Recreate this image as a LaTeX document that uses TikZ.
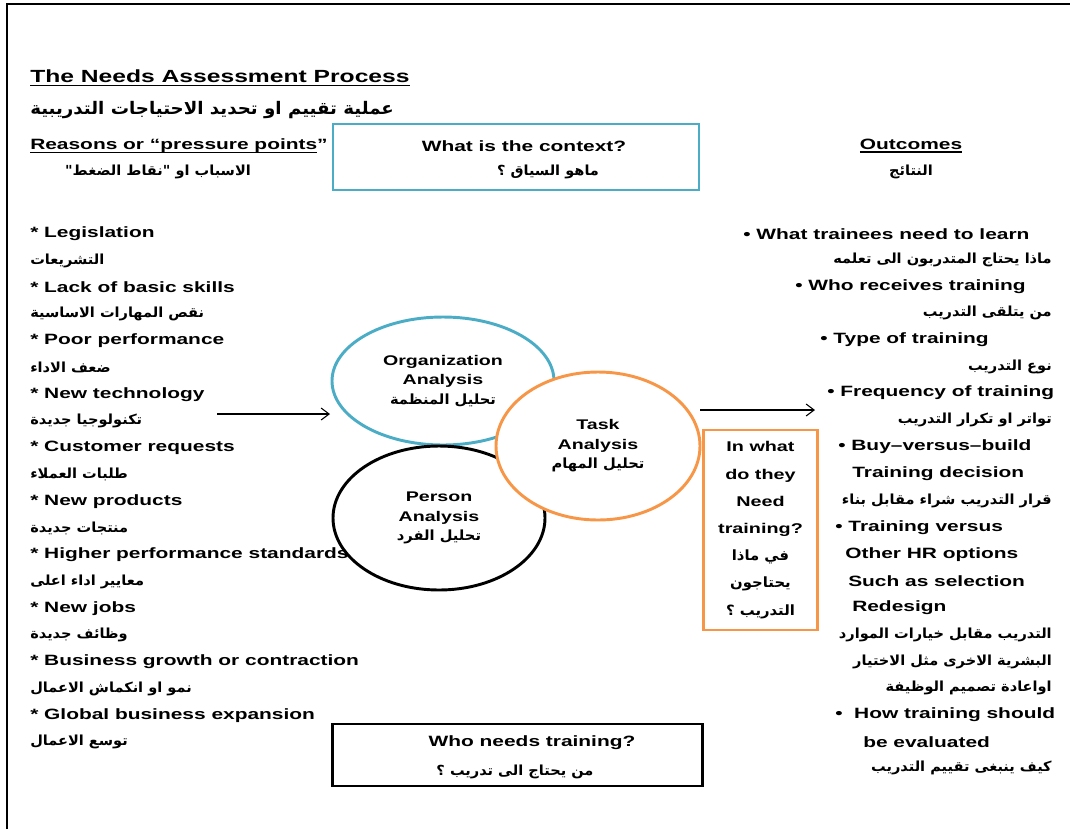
\documentclass[tikz,border=0pt]{standalone}
\usepackage{fontspec}
\setmainfont[FakeStretch=1.4]{Liberation Sans}
\newfontfamily\arabicfont[Script=Arabic,FakeStretch=1.05]{DejaVu Sans}
\TeXXeTstate=1
\usepackage{xcolor}
\usepackage{tikz}
\usetikzlibrary{arrows.meta, positioning, shapes.geometric}
\definecolor{ctxblue}{HTML}{4BACC6}
\definecolor{taskorange}{HTML}{F79646}
\newcommand{\arab}[1]{{\arabicfont\beginR #1\endR}}
\newcommand{\uln}[1]{\leavevmode\setbox0\hbox{#1}\rlap{\rule[-2.2pt]{\wd0}{0.9pt}}\box0}

\begin{document}
\begin{tikzpicture}[x=0.75pt, y=-0.75pt,
    reason/.style={inner sep=0pt, font=\fontsize{11.2}{13}\selectfont\bfseries},
    reasonar/.style={inner sep=0pt, font=\arabicfont\fontsize{10.4}{12}\selectfont\bfseries},
    analysis/.style={ellipse, draw, line width=2.2pt, fill=white, align=center, inner sep=0pt,
        font=\fontsize{10.5}{14.6}\selectfont\bfseries},
    boxed/.style={draw, line width=2.2pt, inner sep=0pt},
    flow/.style={line width=0.8pt, -{Straight Barb[length=6pt, width=9pt]}}]
  \useasboundingbox (0,0) rectangle (1070,829);
  \draw[line width=1.5pt] (7,829) -- (7,4) -- (1070,4);

  \node[anchor=west, inner sep=0pt, font=\fontsize{13.2}{15}\selectfont\bfseries] (ttl) at (30,78) {\uln{The Needs Assessment Process}};
  \node[anchor=west, inner sep=0pt, font=\arabicfont\fontsize{13}{15}\selectfont\bfseries] (ttlar) at (30,110) {\beginR عملية تقييم او تحديد الاحتياجات التدريبية\endR};

  \node[reason, anchor=west] (rsn) at (30,146) {\uln{Reasons or “pressure points}”};
  \node[reasonar] (rsnar) at (158,172) {\beginR الاسباب او "نقاط الضغط"\endR};

  \node[boxed, draw=ctxblue, minimum width=274.5pt, minimum height=49.5pt] (ctx) at (516,157) {};
  \node[reason] (ctxq) at (524,146) {What is the context?};
  \node[reasonar] (ctxar) at (548,172) {\beginR ماهو السياق ؟\endR};

  \node[reason] (out) at (911,146) {\uln{Outcomes}};
  \node[reasonar] (outar) at (911,172) {\beginR النتائج\endR};

  \foreach \i/\t in {0/Legislation, 1/Lack of basic skills, 2/Poor performance, 3/New technology,
      4/Customer requests, 5/New products, 6/Higher performance standards, 7/New jobs,
      8/Business growth or contraction, 9/Global business expansion} {
    \node[reason, anchor=west] (r\i) at (30,234+53.5*\i) {* \t};
  }
  \foreach \i/\t in {0/التشريعات, 1/نقص المهارات الاساسية, 2/ضعف الاداء, 3/تكنولوجيا جديدة,
      4/طلبات العملاء, 5/منتجات جديدة, 6/معايير اداء اعلى, 7/وظائف جديدة,
      8/نمو او انكماش الاعمال, 9/توسع الاعمال} {
    \node[reasonar, anchor=west] (ra\i) at (30,260.75+53.5*\i) {\beginR\t\endR};
  }

  \node[analysis, draw=ctxblue, minimum width=166.5pt, minimum height=96pt] (org) at (443,381)
    {Organization\\Analysis\\\arab{تحليل المنظمة}};
  \node[analysis, draw=black, minimum width=159pt, minimum height=108pt] (per) at (439,518)
    {Person\\Analysis\\\arab{تحليل الفرد}};
  \node[analysis, draw=taskorange, minimum width=153pt, minimum height=111pt] (task) at (598,446)
    {Task\\Analysis\\\arab{تحليل المهام}};

  \coordinate (inA) at (217,414);
  \coordinate (inB) at (330,414);
  \draw[flow] (inA) -- (inB);
  \coordinate (outA) at (700,410);
  \coordinate (outB) at (815,410);
  \draw[flow] (outA) -- (outB);

  \node[boxed, draw=taskorange, minimum width=86pt, minimum height=150pt, align=center,
      font=\fontsize{10.6}{20.4}\selectfont\bfseries] (need) at (760.5,530)
    {In what\\do they\\Need\\training?\\\arab{في ماذا}\\\arab{يحتاجون}\\\arab{التدريب ؟}};

  \foreach \x/\y/\t in {743/234/• What trainees need to learn, 795/287/• Who receives training,
      820/340/• Type of training, 827/393/• Frequency of training, 838/447/• Buy–versus–build,
      852/474/Training decision, 835/528/• Training versus, 845/555/Other HR options,
      848/581/Such as selection, 852/608/Redesign, 835/715/•\ \ How training should,
      863/742/be evaluated} {
    \node[reason, anchor=west] (o\y) at (\x,\y) {\t};
  }
  \foreach \y/\t in {260/ماذا يحتاج المتدربون الى تعلمه, 313/من يتلقى التدريب, 367/نوع التدريب,
      420/تواتر او تكرار التدريب, 501/قرار التدريب شراء مقابل بناء, 635/التدريب مقابل خيارات الموارد,
      662/البشرية الاخرى مثل الاختيار, 688/اواعادة تصميم الوظيفة, 768/كيف ينبغى تقييم التدريب} {
    \node[reasonar, anchor=east] (oa\y) at (1052,\y) {\beginR\t\endR};
  }

  \node[boxed, draw=black, minimum width=278pt, minimum height=46.5pt] (who) at (517.5,755) {};
  \node[reason] (whoq) at (532,743) {Who needs training?};
  \node[reasonar] (whoar) at (515,772) {\beginR من يحتاج الى تدريب ؟\endR};
\end{tikzpicture}
\end{document}
